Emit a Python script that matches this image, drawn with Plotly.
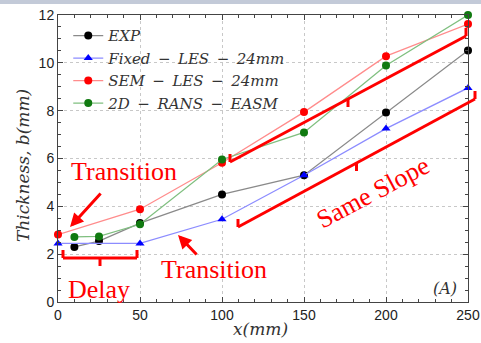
import plotly.graph_objects as go

# ---- data ----
exp_x = [10, 25, 50, 100, 150, 200, 250]
exp_y = [2.30, 2.55, 3.30, 4.50, 5.30, 7.92, 10.52]

fixed_x = [0, 50, 100, 150, 200, 250]
fixed_y = [2.45, 2.45, 3.46, 5.30, 7.25, 8.95]

sem_x = [0, 50, 100, 150, 200, 250]
sem_y = [2.82, 3.88, 5.82, 7.94, 10.28, 11.62]

rans_x = [10, 25, 50, 100, 150, 200, 250]
rans_y = [2.72, 2.74, 3.25, 5.96, 7.09, 9.89, 12.0]

SP = "\u2002"
series = [
    ("<i>EXP</i>", exp_x, exp_y, "#8a8a8a", "#000000", "circle"),
    (f"<i>Fixed{SP}−{SP}LES{SP}−{SP}24mm</i>", fixed_x, fixed_y, "#8c8cff", "#0000ff", "triangle-up"),
    (f"<i>SEM{SP}−{SP}LES{SP}−{SP}24mm</i>", sem_x, sem_y, "#ff8c8c", "#ff0000", "circle"),
    (f"<i>2D{SP}−{SP}RANS{SP}−{SP}EASM</i>", rans_x, rans_y, "#7fbf7f", "#107a10", "circle"),
]

W, H = 481, 343
L, R, T, B = 58, 13, 15, 41
PW, PH = W - L - R, H - T - B


def px(xp, yp):
    """pixel position -> paper coordinates (for annotation drawings)."""
    return (xp - L) / PW, (H - B - yp) / PH


fig = go.Figure()
for name, xs, ys, lc, mc, sym in series:
    fig.add_trace(go.Scatter(
        x=xs, y=ys, name=name, mode="lines+markers",
        line=dict(color=lc, width=1.3),
        marker=dict(color=mc, size=8, symbol=sym),
        cliponaxis=False,
    ))

RED = "#ff0000"
shapes = []


def seg(p1, p2, w=3):
    x0, y0 = px(*p1)
    x1, y1 = px(*p2)
    shapes.append(dict(type="line", xref="paper", yref="paper",
                       x0=x0, y0=y0, x1=x1, y1=y1,
                       line=dict(color=RED, width=w)))


def bracket(a, b, hook=8, nub=8):
    seg(a, b)
    seg(a, (a[0], a[1] - hook))
    seg(b, (b[0], b[1] - hook))
    mx, my = (a[0] + b[0]) / 2, (a[1] + b[1]) / 2
    seg((mx, my), (mx, my + nub))


bracket((63, 258), (137, 258))
bracket((230, 162), (466, 36))
bracket((238, 227), (475, 99))

# top window strip
shapes.append(dict(type="rect", xref="paper", yref="paper",
                   x0=px(0, 0)[0], x1=px(W, 0)[0], y0=px(0, 4)[1], y1=px(0, 0)[1],
                   fillcolor="#c3cad8", line=dict(width=0), layer="below"))

annotations = []


def text(xp, yp, s, size=26, angle=0, color=RED, family="Liberation Serif"):
    x, y = px(xp, yp)
    annotations.append(dict(xref="paper", yref="paper", x=x, y=y, text=s,
                            xanchor="center", yanchor="middle",
                            showarrow=False, textangle=angle,
                            font=dict(size=size, color=color, family=family)))


def arrow(head, tail):
    x, y = px(*head)
    annotations.append(dict(xref="paper", yref="paper", x=x, y=y, text="",
                            showarrow=True, axref="pixel", ayref="pixel",
                            ax=tail[0] - head[0], ay=tail[1] - head[1],
                            arrowhead=2, arrowsize=0.9, arrowwidth=3,
                            arrowcolor=RED))


text(124, 172, "Transition")
text(214, 269, "Transition")
text(99, 289, "Delay")
text(373, 192, "Same Slope", angle=-28)
text(445, 288, "<i>(A)</i>", size=16, color="#333333", family="DejaVu Serif")
text(260, 329, "<i>x(mm)</i>", size=17, color="#333333", family="DejaVu Serif")
text(23, 166, "<i>Thickness, b(mm)</i>", size=17, angle=-90, color="#333333", family="DejaVu Serif")
arrow((70, 227), (102, 192))
arrow((178, 235), (198, 256))

axis_common = dict(
    showline=True, linecolor="#444444", linewidth=1, mirror="ticks",
    ticks="inside", ticklen=5, tickcolor="#444444",
    showgrid=True, gridcolor="#c8c8c8", griddash="dot", gridwidth=1,
    zeroline=False, automargin=False,
    tickfont=dict(family="Liberation Sans", size=14, color="#222222"),
)

fig.update_layout(
    width=W, height=H,
    margin=dict(l=L, r=R, t=T, b=B, pad=0),
    paper_bgcolor="white", plot_bgcolor="white",
    xaxis=dict(range=[0, 250], tickvals=[0, 50, 100, 150, 200, 250],
               minor=dict(dtick=10, ticks="inside", ticklen=3, tickcolor="#444444", showgrid=False),
               **axis_common),
    yaxis=dict(range=[0, 12], tickvals=[0, 2, 4, 6, 8, 10, 12],
               minor=dict(dtick=0.5, ticks="inside", ticklen=3, tickcolor="#444444", showgrid=False),
               **axis_common),
    legend=dict(x=0.025, y=0.985, xanchor="left", yanchor="top",
                bgcolor="rgba(0,0,0,0)", borderwidth=0,
                font=dict(family="DejaVu Serif", size=15, color="#333333"),
                tracegroupgap=0),
    shapes=shapes,
    annotations=annotations,
)

fig.write_html(
    "out.html",
    config={"displayModeBar": False},
    post_script="document.body.style.margin='0';document.body.style.padding='0';document.body.style.overflow='hidden';",
)
